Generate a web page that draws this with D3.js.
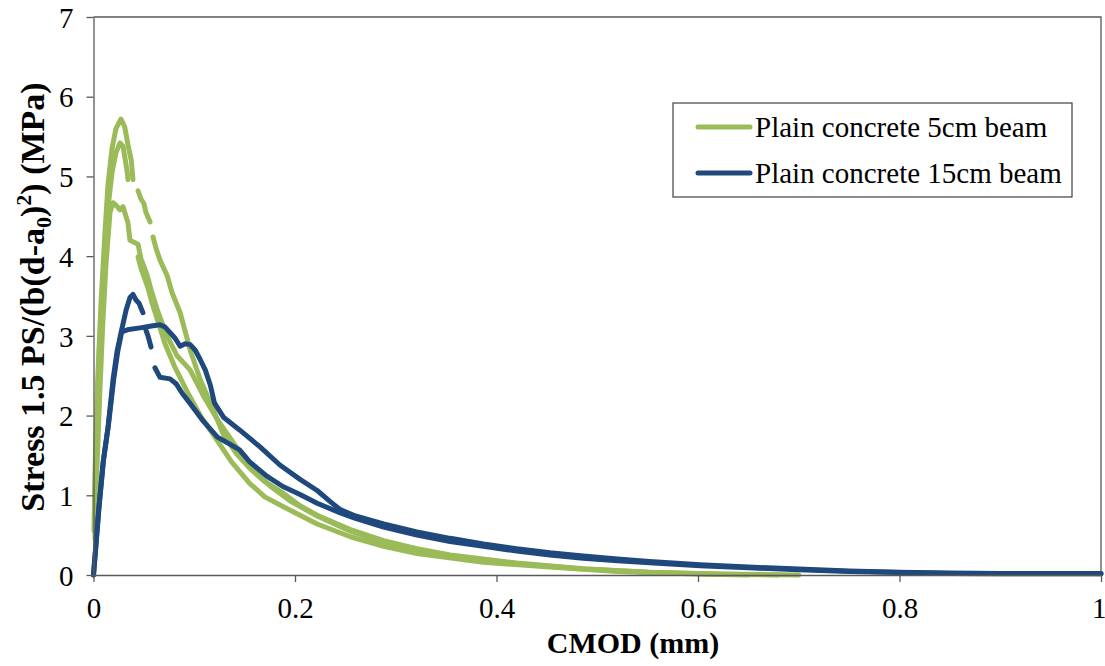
<!DOCTYPE html>
<html><head><meta charset="utf-8">
<script src="https://cdn.jsdelivr.net/npm/d3@7"></script>
<style>
html,body{margin:0;padding:0;background:#fff;}
text{font-family:"Liberation Serif","Times New Roman",serif;fill:#000;}
</style></head>
<body>
<svg id="chart" width="1105" height="666"></svg>
<script>
// ---- data (CMOD mm, stress MPa); null = gap in recorded curve ----
const xTicks = [0, 0.2, 0.4, 0.6, 0.8, 1];
const xTickLabels = ["0", "0.2", "0.4", "0.6", "0.8", "1"];
const yTicks = [0, 1, 2, 3, 4, 5, 6, 7];
const yTickLabels = ["0", "1", "2", "3", "4", "5", "6", "7"];
const seriesNames = ["Plain concrete 5cm beam", "Plain concrete 15cm beam"];

const green1 = [[0.0005,0.55],[0.0015,1.3],[0.004,2.4],[0.0074,3.4],[0.0114,4.3],[0.0144,4.9],[0.0184,5.35],[0.0223,5.6],[0.0273,5.72],[0.031,5.62],[0.0342,5.4],[0.0375,5.2],[0.0392,4.96], null,
 [0.0442,4.82],[0.047,4.72],[0.05,4.66],[0.052,4.55],[0.0561,4.43], null,
 [0.0591,4.24],[0.062,4.1],[0.066,3.95],[0.073,3.76],[0.078,3.54],[0.086,3.29],[0.096,2.82],[0.106,2.45],[0.119,2.07],[0.129,1.76],[0.142,1.52],[0.155,1.34],[0.17,1.17],[0.188,1.03],[0.205,0.87],[0.222,0.75],[0.255,0.57],[0.288,0.43],[0.321,0.33],[0.354,0.25],[0.42,0.15],[0.486,0.08],[0.55,0.035],[0.62,0.012],[0.7,0]];
const green2 = [[0.001,0.8],[0.003,1.8],[0.006,2.9],[0.0094,3.7],[0.0134,4.5],[0.0184,5.05],[0.0223,5.3],[0.0263,5.42],[0.0293,5.38],[0.031,5.25],[0.0335,5.05],[0.0342,4.96], null,
 [0.0442,3.99],[0.0471,3.85],[0.0541,3.6],[0.058,3.42],[0.064,3.18],[0.071,2.9],[0.081,2.6],[0.093,2.3],[0.106,2.0],[0.121,1.72],[0.137,1.42],[0.155,1.15],[0.17,0.98],[0.188,0.86],[0.222,0.64],[0.255,0.48],[0.288,0.36],[0.321,0.27],[0.387,0.16],[0.453,0.1],[0.52,0.045],[0.6,0.012],[0.65,0]];
const green3 = [[0.0015,0.45],[0.003,1.2],[0.006,2.2],[0.009,3.1],[0.0124,3.9],[0.0164,4.55],[0.0194,4.67],[0.0223,4.64],[0.0263,4.58],[0.0293,4.62],[0.0342,4.42],[0.0362,4.2],[0.0442,4.15],[0.0471,3.97],[0.0521,3.8],[0.0541,3.72],[0.0571,3.58],[0.064,3.3],[0.073,3.0],[0.083,2.75],[0.096,2.57],[0.109,2.25],[0.123,1.95],[0.142,1.6],[0.158,1.33],[0.175,1.12],[0.195,0.93],[0.222,0.74],[0.255,0.55],[0.288,0.41],[0.321,0.31],[0.354,0.24],[0.42,0.14],[0.486,0.075],[0.552,0.035],[0.62,0.01],[0.68,0]];

const blue1 = [[0,0],[0.0015,0.25],[0.005,0.8],[0.0094,1.4],[0.0144,1.85],[0.0194,2.45],[0.0233,2.8],[0.0273,3.04],[0.0323,3.32],[0.0362,3.48],[0.0392,3.52],[0.0422,3.45],[0.0452,3.41],[0.0471,3.35],[0.0491,3.29], null,
 [0.0521,3.07],[0.0541,3.0],[0.0571,2.86], null,
 [0.061,2.6],[0.066,2.48],[0.076,2.46],[0.082,2.4],[0.088,2.28],[0.096,2.15],[0.109,1.93],[0.123,1.73],[0.137,1.63],[0.145,1.57],[0.155,1.42],[0.172,1.24],[0.188,1.11],[0.205,1.01],[0.222,0.9],[0.245,0.78],[0.26,0.71],[0.288,0.6],[0.321,0.5],[0.354,0.42],[0.387,0.36],[0.42,0.3],[0.453,0.25],[0.486,0.21],[0.52,0.18],[0.552,0.155],[0.602,0.115],[0.65,0.09],[0.7,0.065],[0.75,0.045],[0.8,0.03],[0.85,0.02],[0.9,0.015],[0.95,0.015],[1.0,0.015]];
const blue2 = [[0,0],[0.002,0.3],[0.0055,0.85],[0.01,1.45],[0.015,1.9],[0.02,2.45],[0.024,2.8],[0.028,3.05],[0.035,3.08],[0.0462,3.1],[0.056,3.12],[0.066,3.14],[0.071,3.11],[0.076,3.04],[0.081,2.97],[0.086,2.87],[0.091,2.9],[0.096,2.89],[0.101,2.82],[0.106,2.7],[0.111,2.57],[0.116,2.38],[0.12,2.16],[0.129,1.98],[0.145,1.82],[0.165,1.61],[0.185,1.38],[0.205,1.2],[0.222,1.06],[0.235,0.92],[0.245,0.82],[0.26,0.74],[0.288,0.64],[0.321,0.54],[0.354,0.46],[0.387,0.39],[0.42,0.33],[0.453,0.28],[0.486,0.24],[0.52,0.2],[0.552,0.17],[0.602,0.13],[0.65,0.1],[0.7,0.075],[0.75,0.05],[0.8,0.035],[0.85,0.025],[0.9,0.02],[0.95,0.02],[1.0,0.02]];

const greenCurves = [green1, green2, green3];
const blueCurves = [blue1, blue2];
const colors = ["#9BBB59", "#1F497D"];

// ---- layout ----
const svg = d3.select("#chart");
const pLeft = 93.5, pRight = 1101, pTop = 17, pBottom = 575;
const x = d3.scaleLinear().domain([0, 1]).range([pLeft, pRight]);
const y = d3.scaleLinear().domain([0, 7]).range([pBottom, pTop]);
const axisColor = "#595959";

// plot border (top & right)
svg.append("path").attr("d", `M${pLeft},${pTop}H${pRight}V${pBottom}`)
  .attr("fill", "none").attr("stroke", axisColor).attr("stroke-width", 1.3);

const line = d3.line().defined(d => d !== null).x(d => x(d[0])).y(d => y(d[1]));
const g = svg.append("g");
function drawCurve(data, color) {
  g.append("path").attr("d", line(data)).attr("fill", "none")
    .attr("stroke", color).attr("stroke-width", 5)
    .attr("stroke-linejoin", "round").attr("stroke-linecap", "round");
}
greenCurves.forEach(c => drawCurve(c, colors[0]));
blueCurves.forEach(c => drawCurve(c, colors[1]));

// axes
const xAxis = d3.axisBottom(x).tickValues(xTicks).tickFormat((d, i) => xTickLabels[i]).tickSize(7).tickSizeOuter(0);
const yAxis = d3.axisLeft(y).tickValues(yTicks).tickFormat((d, i) => yTickLabels[i]).tickSize(7).tickSizeOuter(0);
const gx = svg.append("g").attr("transform", `translate(0,${pBottom})`).call(xAxis);
const gy = svg.append("g").attr("transform", `translate(${pLeft},0)`).call(yAxis);
[gx, gy].forEach(a => {
  a.select(".domain").attr("stroke", axisColor).attr("stroke-width", 1.3);
  a.selectAll(".tick line").attr("stroke", axisColor).attr("stroke-width", 1.3);
  a.selectAll(".tick text").attr("font-family", "Liberation Serif").attr("font-size", 29).attr("fill", "#000");
});
gx.selectAll(".tick text").attr("dy", null).attr("y", 43);
gx.selectAll(".tick text").filter((d, i) => i === xTicks.length - 1).attr("text-anchor", "end").attr("dx", 5);
gy.selectAll(".tick text").attr("x", -20).attr("dy", "0.35em");

// axis titles
svg.append("text").attr("x", 633).attr("y", 653).attr("text-anchor", "middle")
  .attr("font-size", 30).attr("font-weight", "bold").text("CMOD (mm)");

const yt = svg.append("text").attr("transform", "translate(44,297) rotate(-90)")
  .attr("text-anchor", "middle").attr("font-size", 34).attr("font-weight", "bold");
yt.append("tspan").text("Stress 1.5 PS/(b(d-a");
yt.append("tspan").attr("font-size", 22).attr("dy", 7).text("0");
yt.append("tspan").attr("dy", -7).text(")");
yt.append("tspan").attr("font-size", 22).attr("dy", -13).text("2");
yt.append("tspan").attr("dy", 13).text(") (MPa)");

// legend
const lg = svg.append("g");
lg.append("rect").attr("x", 673).attr("y", 103).attr("width", 399).attr("height", 94)
  .attr("fill", "#fff").attr("stroke", "#404040").attr("stroke-width", 1.2);
seriesNames.forEach((name, i) => {
  const ly = 127 + i * 46;
  lg.append("line").attr("x1", 698).attr("x2", 750).attr("y1", ly).attr("y2", ly)
    .attr("stroke", colors[i]).attr("stroke-width", 5).attr("stroke-linecap", "round");
  lg.append("text").attr("x", 755).attr("y", ly + 10).attr("font-size", 29).text(name);
});
</script>
</body></html>
